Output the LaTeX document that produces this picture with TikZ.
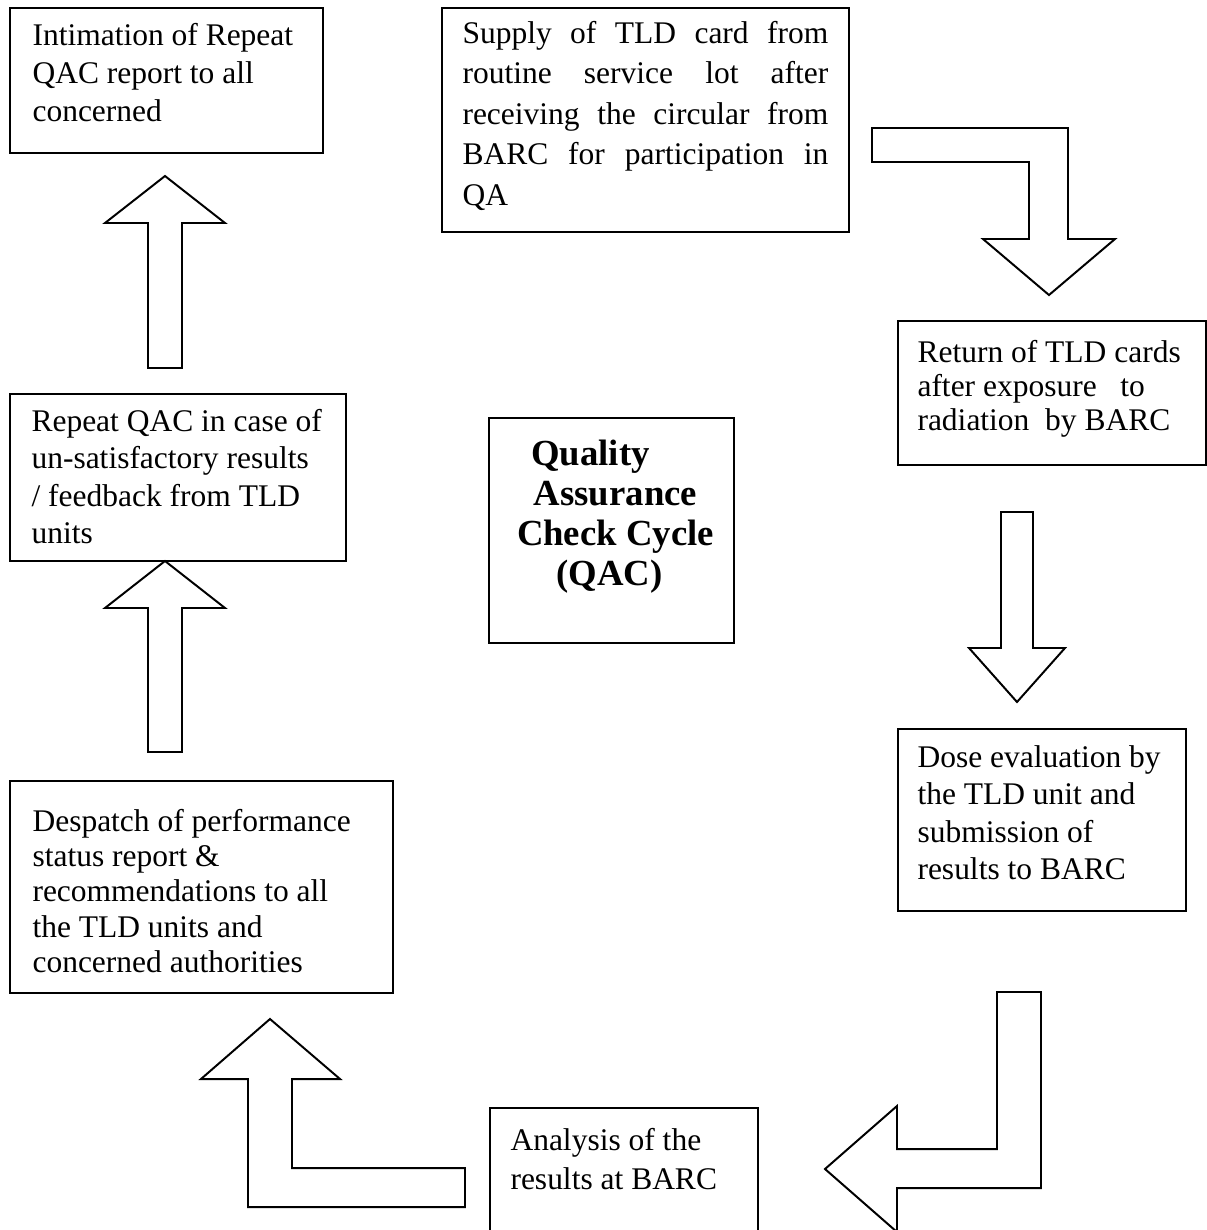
\documentclass[tikz,border=0pt]{standalone}
\usepackage{fontspec}
\setmainfont{Liberation Serif}
\begin{document}
\begin{tikzpicture}[x=0.381pt,y=-0.381pt,
    box/.style={draw,line width=0.75pt,anchor=north west,inner sep=0pt},
    txt/.style={anchor=base west,inner sep=0pt,align=left,font=\fontsize{12}{#1}\selectfont},
    txt/.default=14.5pt,
    blockarrow/.style={draw,line width=0.75pt,line join=miter}]
    \newcommand{\px}{0.381pt}
    \newcommand{\jline}[1]{\makebox[139.4pt][s]{#1}}
    \clip (0,0) rectangle (1207,1230);

    \node[box,minimum width=313*\px,minimum height=145*\px] (intim) at (9,7) {};
    \node[box,minimum width=407*\px,minimum height=224*\px] (supply) at (441,7) {};
    \node[box,minimum width=308*\px,minimum height=144*\px] (return) at (897,320) {};
    \node[box,minimum width=288*\px,minimum height=182*\px] (dose) at (897,728) {};
    \node[box,minimum width=268*\px,minimum height=140*\px] (analysis) at (489,1107) {};
    \node[box,minimum width=383*\px,minimum height=212*\px] (despatch) at (9,780) {};
    \node[box,minimum width=336*\px,minimum height=167*\px] (repeat) at (9,393) {};
    \node[box,minimum width=245*\px,minimum height=225*\px] (qac) at (488,417) {};

    % base anchor sits on the last line
    \node[txt=14.48pt] (intimtxt) at ([shift={(23,38+2*38)}]intim.north west)
        {Intimation of Repeat\\QAC report to all\\concerned};
    \node[txt=15.43pt] (supplytxt) at ([shift={(21,36+4*40.5)}]supply.north west)
        {\jline{Supply of TLD card from}\\\jline{routine service lot after}\\
         \jline{receiving the circular from}\\\jline{BARC for participation in}\\QA};
    \node[txt=12.95pt] (returntxt) at ([shift={(20,42+2*34)}]return.north west)
        {Return of TLD cards\\after exposure\ \ \ to\\radiation\ \ by BARC};
    \node[txt=14.1pt] (dosetxt) at ([shift={(20,40+3*37)}]dose.north west)
        {Dose evaluation by\\the TLD unit and\\submission of\\results to BARC};
    \node[txt=14.86pt] (analysistxt) at ([shift={(21,43+39)}]analysis.north west)
        {Analysis of the\\results at BARC};
    \node[txt=13.34pt] (despatchtxt) at ([shift={(23,52+4*35)}]despatch.north west)
        {Despatch of performance\\status report \&\\recommendations to all\\the TLD units and\\concerned authorities};
    \node[txt=14.1pt] (repeattxt) at ([shift={(22,39+3*37)}]repeat.north west)
        {Repeat QAC in case of\\un-satisfactory results\\/ feedback from TLD\\units};
    \node[anchor=base,inner sep=0pt,align=center,font=\fontsize{14}{15.2}\selectfont\bfseries]
        (qactxt) at (615.5,585)
        {Quality\hspace*{19pt}\\Assurance\hspace*{13pt}\\Check Cycle\\(QAC)\hspace*{4.6pt}};

    % block arrows
    \draw[blockarrow] (872,128) -- (1068,128) -- (1068,239) -- (1115,239) -- (1049,295)
        -- (983,239) -- (1029,239) -- (1029,162) -- (872,162) -- cycle;
    \draw[blockarrow] (1001,512) -- (1033,512) -- (1033,648) -- (1065,648) -- (1017,702)
        -- (969,648) -- (1001,648) -- cycle;
    \draw[blockarrow] (997,992) -- (1041,992) -- (1041,1188) -- (897,1188) -- (897,1232)
        -- (825,1169) -- (897,1106) -- (897,1149) -- (997,1149) -- cycle;
    \draw[blockarrow] (248,1207) -- (465,1207) -- (465,1168) -- (292,1168) -- (292,1079)
        -- (340,1079) -- (270,1019) -- (201,1079) -- (248,1079) -- cycle;
    \foreach \bot/\hd in {368/223,752/608}
        \draw[blockarrow] (148,\bot) -- (182,\bot) -- (182,\hd) -- (225,\hd) -- (165,\hd-47)
            -- (105,\hd) -- (148,\hd) -- cycle;
\end{tikzpicture}
\end{document}
